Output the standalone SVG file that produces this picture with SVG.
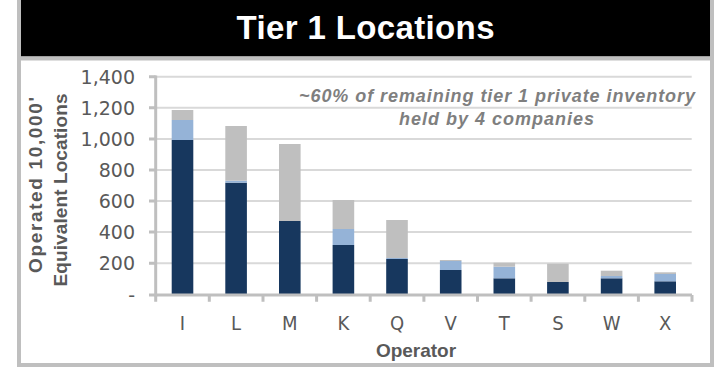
<svg xmlns="http://www.w3.org/2000/svg" width="718" height="368" viewBox="0 0 718 368">
<style>
.frame{fill:none;stroke:#BFBFBF;stroke-width:4}
.grid{stroke:#D9D9D9;stroke-width:2}
.axis{stroke:#BFBFBF;stroke-width:3;fill:none}
.d{fill:#17375E}
.l{fill:#95B3D7}
.g{fill:#BFBFBF}
.tick{font-family:"DejaVu Sans","Liberation Sans",sans-serif;font-size:19px;fill:#595959;text-anchor:end}
.cat{font-family:"DejaVu Sans Condensed","DejaVu Sans","Liberation Sans",sans-serif;font-size:20px;fill:#595959;text-anchor:middle}
.atitle{font-family:"Liberation Sans",Arial,sans-serif;font-size:19px;font-weight:bold;fill:#595959;text-anchor:middle}
.note{font-family:"Liberation Sans",Arial,sans-serif;font-size:18px;font-weight:bold;font-style:italic;fill:#7F7F7F;text-anchor:middle}
</style>
<rect x="0" y="0" width="718" height="368" fill="#FFFFFF"/>
<g id="title">
<rect x="21" y="0" width="689" height="56.5" fill="#000000"/>
<text x="365.5" y="39.3" font-family="'Liberation Sans',Arial,sans-serif" font-size="33" font-weight="bold" fill="#FFFFFF" text-anchor="middle" textLength="258" lengthAdjust="spacing">Tier 1 Locations</text>
</g>
<g id="frame">
<rect class="frame" x="19" y="-4" width="693" height="369"/>
<line x1="19" y1="58.5" x2="712" y2="58.5" stroke="#BFBFBF" stroke-width="4"/>
</g>
<g id="gridlines">
<line class="grid" x1="155.7" y1="263.2" x2="691.7" y2="263.2"/>
<line class="grid" x1="155.7" y1="232.1" x2="691.7" y2="232.1"/>
<line class="grid" x1="155.7" y1="201.1" x2="691.7" y2="201.1"/>
<line class="grid" x1="155.7" y1="170.0" x2="691.7" y2="170.0"/>
<line class="grid" x1="155.7" y1="138.9" x2="691.7" y2="138.9"/>
<line class="grid" x1="155.7" y1="107.8" x2="691.7" y2="107.8"/>
<line class="grid" x1="155.7" y1="76.7" x2="691.7" y2="76.7"/>
</g>
<g id="bars">
<rect class="d" x="171.7" y="140" width="21.6" height="154.3"/>
<rect class="l" x="171.7" y="120" width="21.6" height="20"/>
<rect class="g" x="171.7" y="110" width="21.6" height="10"/>

<rect class="d" x="225.3" y="182.7" width="21.6" height="111.6"/>
<rect class="l" x="225.3" y="180.7" width="21.6" height="2"/>
<rect class="g" x="225.3" y="126" width="21.6" height="54.7"/>

<rect class="d" x="279.0" y="221" width="21.6" height="73.3"/>
<rect class="g" x="279.0" y="144" width="21.6" height="77"/>

<rect class="d" x="332.6" y="245" width="21.6" height="49.3"/>
<rect class="l" x="332.6" y="229" width="21.6" height="16"/>
<rect class="g" x="332.6" y="200" width="21.6" height="29"/>

<rect class="d" x="386.2" y="259" width="21.6" height="35.3"/>
<rect class="l" x="386.2" y="258" width="21.6" height="1"/>
<rect class="g" x="386.2" y="220" width="21.6" height="38"/>

<rect class="d" x="439.9" y="270" width="21.6" height="24.3"/>
<rect class="l" x="439.9" y="261" width="21.6" height="9"/>
<rect class="g" x="439.9" y="260" width="21.6" height="1"/>

<rect class="d" x="493.5" y="278.3" width="21.6" height="16"/>
<rect class="l" x="493.5" y="266.7" width="21.6" height="11.6"/>
<rect class="g" x="493.5" y="262.7" width="21.6" height="4"/>

<rect class="d" x="547.1" y="282" width="21.6" height="12.3"/>
<rect class="g" x="547.1" y="263.7" width="21.6" height="18.3"/>

<rect class="d" x="600.8" y="278.3" width="21.6" height="16"/>
<rect class="l" x="600.8" y="276" width="21.6" height="2.3"/>
<rect class="g" x="600.8" y="270.7" width="21.6" height="5.3"/>

<rect class="d" x="654.4" y="281.3" width="21.6" height="13"/>
<rect class="l" x="654.4" y="274" width="21.6" height="7.3"/>
<rect class="g" x="654.4" y="272.3" width="21.6" height="1.7"/>
</g>
<g id="axes">
<line class="axis" x1="155.7" y1="75.5" x2="155.7" y2="296.5"/>
<line class="axis" x1="149" y1="295" x2="692" y2="295"/>
<path class="axis" d="M149 263.2H155.7M149 232.1H155.7M149 201.1H155.7M149 170H155.7M149 138.9H155.7M149 107.8H155.7M149 76.7H155.7"/>
<path class="axis" d="M155.7 295V301.7M209.3 295V301.7M263 295V301.7M316.6 295V301.7M370.2 295V301.7M423.9 295V301.7M477.5 295V301.7M531.1 295V301.7M584.8 295V301.7M638.4 295V301.7M692 295V301.7"/>
</g>
<g id="y-labels">
<text class="tick" x="135" y="302">-</text>
<text class="tick" x="135" y="270.2">200</text>
<text class="tick" x="135" y="239.1">400</text>
<text class="tick" x="135" y="208.1">600</text>
<text class="tick" x="135" y="177">800</text>
<text class="tick" x="135" y="145.9">1,000</text>
<text class="tick" x="135" y="114.8">1,200</text>
<text class="tick" x="135" y="83.7">1,400</text>
</g>
<g id="x-labels">
<text class="cat" x="182.5" y="330">I</text>
<text class="cat" x="236.1" y="330">L</text>
<text class="cat" x="289.8" y="330">M</text>
<text class="cat" x="343.4" y="330">K</text>
<text class="cat" x="397.0" y="330">Q</text>
<text class="cat" x="450.7" y="330">V</text>
<text class="cat" x="504.3" y="330">T</text>
<text class="cat" x="557.9" y="330">S</text>
<text class="cat" x="611.6" y="330">W</text>
<text class="cat" x="665.2" y="330">X</text>
</g>
<g id="axis-titles">
<text class="atitle" x="416" y="357">Operator</text>
<text class="atitle" transform="translate(42,185) rotate(-90)" x="0" y="0" textLength="176" lengthAdjust="spacing">Operated 10,000'</text>
<text class="atitle" transform="translate(67,190) rotate(-90)" x="0" y="0" textLength="193" lengthAdjust="spacing">Equivalent Locations</text>
</g>
<g id="note">
<text class="note" x="497" y="101.7" textLength="396" lengthAdjust="spacing">~60% of remaining tier 1 private inventory</text>
<text class="note" x="496.5" y="125" textLength="195" lengthAdjust="spacing">held by 4 companies</text>
</g>
</svg>
